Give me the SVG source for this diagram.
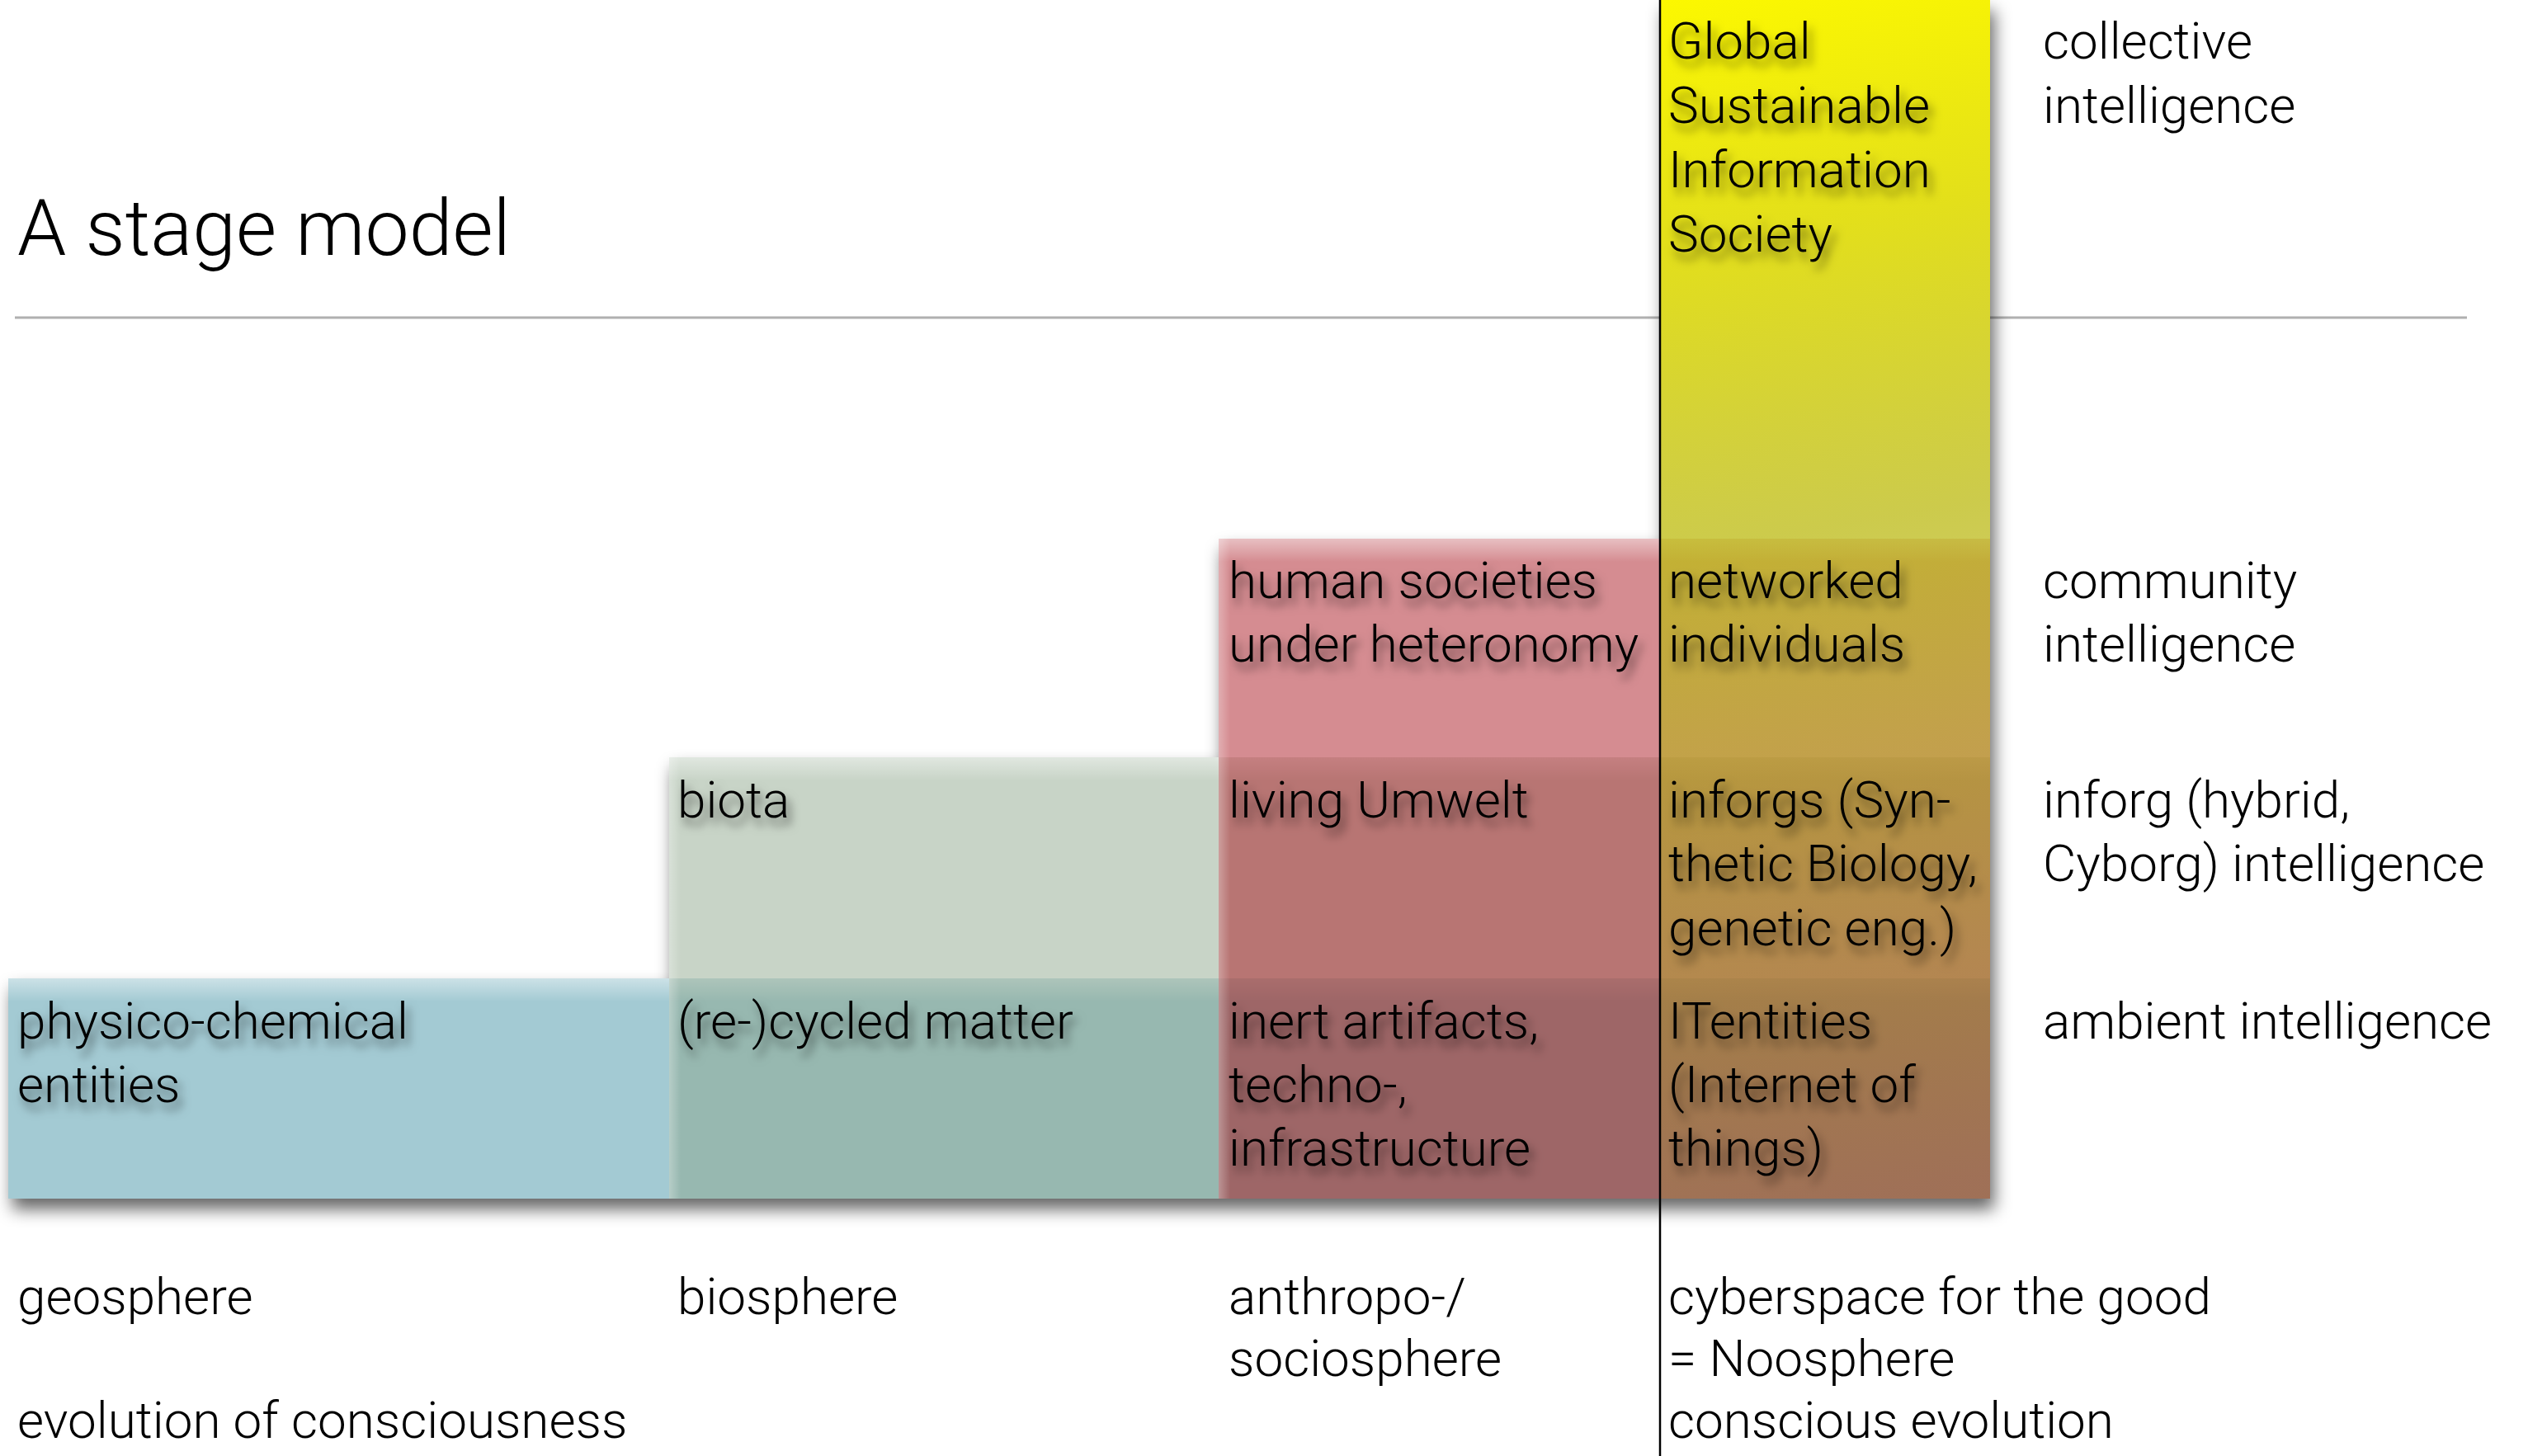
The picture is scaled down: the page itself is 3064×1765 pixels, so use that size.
<svg xmlns="http://www.w3.org/2000/svg" width="3064" height="1765" viewBox="0 0 3064 1765">
  <defs>
    <style>
      text { font-family: Roboto, "Liberation Sans", Arial, sans-serif; font-weight: 300; font-size: 62px; fill: #000; }
      .title { font-size: 95px; }
      .inbox { filter: url(#textShadow); }
    </style>
    <filter id="textShadow" x="-10%" y="-30%" width="130%" height="180%">
      <feDropShadow dx="5" dy="9" stdDeviation="6" flood-color="#000" flood-opacity="0.55"/>
    </filter>
    <filter id="boxShadow" x="-5%" y="-5%" width="110%" height="110%">
      <feGaussianBlur stdDeviation="10"/>
    </filter>
    <linearGradient id="yellowGrad" gradientUnits="userSpaceOnUse" x1="2012" y1="0" x2="2250" y2="1453">
      <stop offset="0" stop-color="rgb(252,248,0)" stop-opacity="1"/>
      <stop offset="0.2" stop-color="rgb(226,222,14)" stop-opacity="0.95"/>
      <stop offset="0.45" stop-color="rgb(190,188,25)" stop-opacity="0.78"/>
      <stop offset="1" stop-color="rgb(165,150,30)" stop-opacity="0.22"/>
    </linearGradient>
    <linearGradient id="topGlow" x1="0" y1="0" x2="0" y2="1">
      <stop offset="0" stop-color="#fff" stop-opacity="0.45"/>
      <stop offset="1" stop-color="#fff" stop-opacity="0"/>
    </linearGradient>
    <linearGradient id="leftGlow" x1="0" y1="0" x2="1" y2="0">
      <stop offset="0" stop-color="#fff" stop-opacity="0.3"/>
      <stop offset="1" stop-color="#fff" stop-opacity="0"/>
    </linearGradient>
  </defs>

  <rect x="0" y="0" width="3064" height="1765" fill="#fff"/>

  <g id="connectors">
    <line id="separator" x1="18" y1="385" x2="2990" y2="385" stroke="#b0b0b0" stroke-width="3"/>
  </g>

  <g id="box-shadow">
    <path d="M10,1186 H811 V918 H1477 V653 H2012 V0 H2412 V1453 H10 Z" fill="#000" fill-opacity="0.6" transform="translate(5,13)" filter="url(#boxShadow)"/>
    <path d="M10,1186 H811 V918 H1477 V653 H2012 V0 H2412 V1453 H10 Z" fill="#fff"/>
  </g>

  <g id="stage-geosphere">
    <rect x="10" y="1186" width="2402" height="267" fill="#A3CAD3"/>
    <rect x="10" y="1186" width="2402" height="28" fill="url(#topGlow)"/>
  </g>
  <g id="stage-biosphere">
    <rect x="811" y="918" width="1601" height="535" fill="rgb(138,164,136)" fill-opacity="0.47"/>
    <rect x="811" y="918" width="1601" height="28" fill="url(#topGlow)"/>
    <rect x="811" y="918" width="14" height="535" fill="url(#leftGlow)"/>
  </g>
  <g id="stage-sociosphere">
    <rect x="1477" y="653" width="935" height="800" fill="rgb(166,11,21)" fill-opacity="0.47"/>
    <rect x="1477" y="653" width="935" height="28" fill="url(#topGlow)"/>
    <rect x="1477" y="653" width="14" height="800" fill="url(#leftGlow)"/>
  </g>
  <g id="stage-noosphere">
    <rect x="2012" y="0" width="400" height="1453" fill="url(#yellowGrad)"/>
  </g>

  <g id="divider">
    <line x1="2012" y1="0" x2="2012" y2="1765" stroke="#000" stroke-width="2.5"/>
  </g>

  <g id="title">
    <text class="title" x="21" y="309">A stage model</text>
  </g>

  <g id="node-gsis" class="inbox">
    <text x="2022" y="71">Global</text>
    <text x="2022" y="149">Sustainable</text>
    <text x="2022" y="227">Information</text>
    <text x="2022" y="305">Society</text>
  </g>
  <g id="node-collective">
    <text x="2476" y="71">collective</text>
    <text x="2476" y="149">intelligence</text>
  </g>

  <g id="node-human-societies" class="inbox">
    <text x="1489" y="725">human societies</text>
    <text x="1489" y="802">under heteronomy</text>
  </g>
  <g id="node-networked" class="inbox">
    <text x="2022" y="725">networked</text>
    <text x="2022" y="802">individuals</text>
  </g>
  <g id="node-community">
    <text x="2476" y="725">community</text>
    <text x="2476" y="802">intelligence</text>
  </g>

  <g id="node-biota" class="inbox">
    <text x="821" y="991">biota</text>
  </g>
  <g id="node-living" class="inbox">
    <text x="1489" y="991">living Umwelt</text>
  </g>
  <g id="node-inforgs" class="inbox">
    <text x="2022" y="991">inforgs (Syn-</text>
    <text x="2022" y="1068">thetic Biology,</text>
    <text x="2022" y="1146">genetic eng.)</text>
  </g>
  <g id="node-inforg-intel">
    <text x="2476" y="991">inforg (hybrid,</text>
    <text x="2476" y="1068">Cyborg) intelligence</text>
  </g>

  <g id="node-physico" class="inbox">
    <text x="21" y="1259">physico-chemical</text>
    <text x="21" y="1336">entities</text>
  </g>
  <g id="node-recycled" class="inbox">
    <text x="821" y="1259">(re-)cycled matter</text>
  </g>
  <g id="node-inert" class="inbox">
    <text x="1489" y="1259">inert artifacts,</text>
    <text x="1489" y="1336">techno-,</text>
    <text x="1489" y="1413">infrastructure</text>
  </g>
  <g id="node-itentities" class="inbox">
    <text x="2022" y="1259">ITentities</text>
    <text x="2022" y="1336">(Internet of</text>
    <text x="2022" y="1413">things)</text>
  </g>
  <g id="node-ambient">
    <text x="2476" y="1259">ambient intelligence</text>
  </g>

  <g id="node-geosphere">
    <text x="21" y="1593">geosphere</text>
  </g>
  <g id="node-biosphere">
    <text x="821" y="1593">biosphere</text>
  </g>
  <g id="node-anthroposphere">
    <text x="1489" y="1593">anthropo-/</text>
    <text x="1489" y="1668">sociosphere</text>
  </g>
  <g id="node-cyberspace">
    <text x="2022" y="1593">cyberspace for the good</text>
    <text x="2022" y="1668">= Noosphere</text>
    <text x="2022" y="1743">conscious evolution</text>
  </g>
  <g id="node-evolution">
    <text x="21" y="1743">evolution of consciousness</text>
  </g>
</svg>
